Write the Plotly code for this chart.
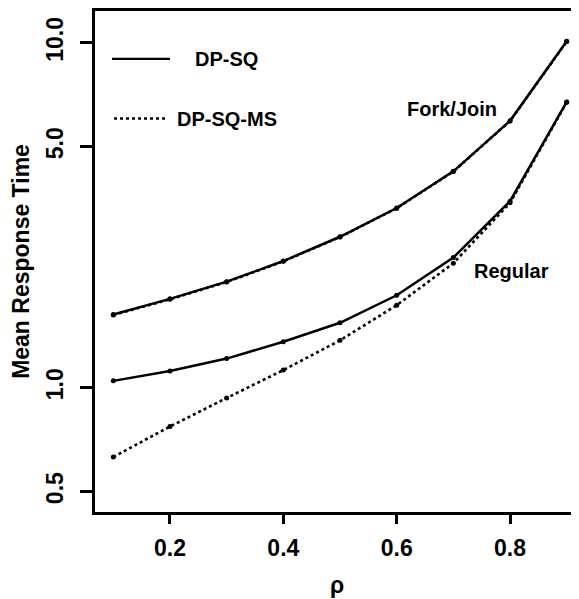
import plotly.graph_objects as go

rho = [0.1, 0.2, 0.3, 0.4, 0.5, 0.6, 0.7, 0.8, 0.9]

# Fork/Join
fj_dpsq = [1.63, 1.81, 2.03, 2.33, 2.74, 3.32, 4.24, 5.94, 10.1]
fj_dpsqms = [1.625, 1.805, 2.025, 2.325, 2.735, 3.315, 4.235, 5.93, 10.08]
# Regular
reg_dpsq = [1.047, 1.119, 1.215, 1.36, 1.543, 1.854, 2.385, 3.475, 6.74]
reg_dpsqms = [0.630, 0.772, 0.934, 1.125, 1.372, 1.735, 2.296, 3.436, 6.72]

y_tickvals = [0.5, 1.0, 5.0, 10.0]
y_ticktext = ["0.5", "1.0", "5.0", "10.0"]
x_tickvals = [0.2, 0.4, 0.6, 0.8]
x_ticktext = ["0.2", "0.4", "0.6", "0.8"]

FONT = "Liberation Sans, Arial, Helvetica, sans-serif"
BLACK = "#000000"

fig = go.Figure()

def add(y, dash, name):
    fig.add_trace(go.Scatter(
        x=rho, y=y, mode="lines+markers", name=name,
        line=dict(color=BLACK, width=2.5 if dash == "solid" else 2.6, dash=dash),
        marker=dict(color=BLACK, size=5),
        showlegend=False,
    ))

add(fj_dpsqms, "3px,3px", "Fork/Join DP-SQ-MS")
add(fj_dpsq, "solid", "Fork/Join DP-SQ")
add(reg_dpsqms, "3px,3px", "Regular DP-SQ-MS")
add(reg_dpsq, "solid", "Regular DP-SQ")

# page body has an 8px margin: figure is drawn offset by (8, 8)
OFF = 8
W, H = 579 - OFF, 599 - OFF
L, T, B, R = 95 - OFF, 8 - OFF + 1, 599 - 512, 0
pw, ph = W - L - R, H - T - B

def px(xs):
    return (xs - OFF - L) / pw

def py(ys):
    return 1 - (ys - OFF - T) / ph

# legend samples
fig.add_shape(type="line", xref="paper", yref="paper",
              x0=px(112), x1=px(170), y0=py(57), y1=py(57),
              line=dict(color=BLACK, width=2.2))
fig.add_shape(type="line", xref="paper", yref="paper",
              x0=px(114), x1=px(166), y0=py(117), y1=py(117),
              line=dict(color=BLACK, width=2.6, dash="3px,3px"))

ann_font = dict(family=FONT, size=20, color=BLACK, weight="bold")
fig.add_annotation(xref="paper", yref="paper", x=px(193), y=py(57),
                   text="DP-SQ", showarrow=False, xanchor="left", yanchor="middle",
                   font=ann_font)
fig.add_annotation(xref="paper", yref="paper", x=px(175), y=py(117),
                   text="DP-SQ-MS", showarrow=False, xanchor="left", yanchor="middle",
                   font=ann_font)
fig.add_annotation(xref="paper", yref="paper", x=px(452), y=py(107),
                   text="Fork/Join", showarrow=False, xanchor="center", yanchor="middle",
                   font=ann_font)
fig.add_annotation(xref="paper", yref="paper", x=px(511), y=py(270),
                   text="Regular", showarrow=False, xanchor="center", yanchor="middle",
                   font=ann_font)

tick_font = dict(family=FONT, size=23, color=BLACK, weight="bold")
title_font = dict(family=FONT, size=23, color=BLACK, weight="bold")

fig.update_layout(
    width=W, height=H,
    margin=dict(l=L, r=R, t=T, b=B, pad=0),
    paper_bgcolor="white", plot_bgcolor="white",
    xaxis=dict(
        range=[0.0677, 0.9217], tickvals=x_tickvals, ticktext=x_ticktext,
        showgrid=False, zeroline=False, showline=True, linecolor=BLACK, linewidth=2.5,
        mirror=True, ticks="outside", ticklen=9, tickwidth=2.5, tickcolor=BLACK,
        tickfont=tick_font, ticklabelstandoff=5,
        title=dict(text="ρ", font=title_font, standoff=17),
    ),
    yaxis=dict(
        type="log", range=[-0.3602, 1.0922], tickvals=y_tickvals, ticktext=y_ticktext,
        showgrid=False, zeroline=False, showline=True, linecolor=BLACK, linewidth=2.5,
        mirror=False, ticks="outside", ticklen=12, tickwidth=2.5, tickcolor=BLACK,
        tickangle=-90, tickfont=tick_font, ticklabelstandoff=8,
        title=dict(text="Mean Response Time", font=title_font, standoff=13),
    ),
)

fig.write_html("out.html")
